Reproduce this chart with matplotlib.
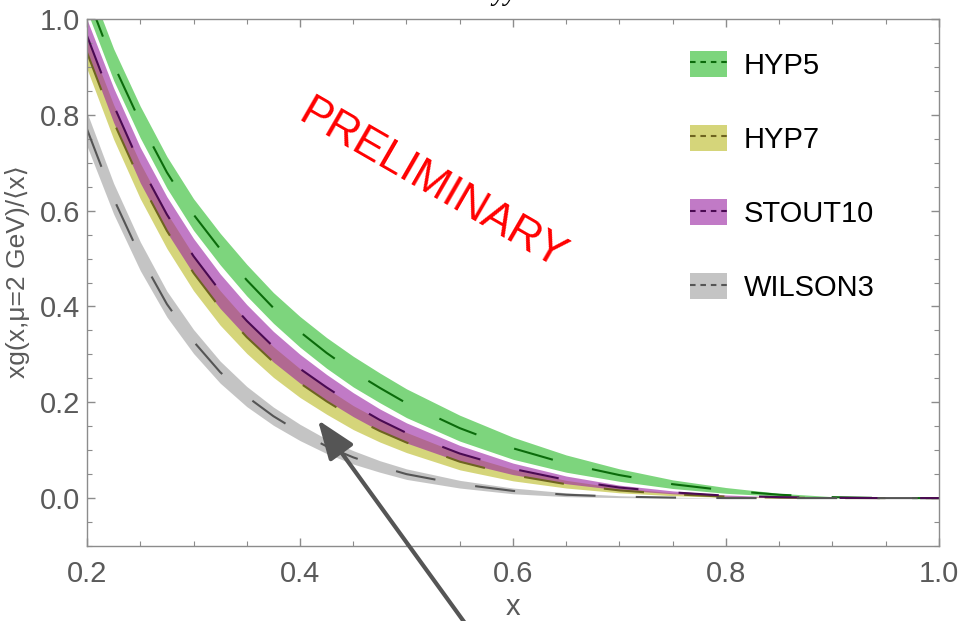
import matplotlib
matplotlib.use("Agg")
import matplotlib.pyplot as plt
from matplotlib.patches import Patch
from matplotlib.lines import Line2D
from matplotlib.ticker import MultipleLocator, FormatStrFormatter
import numpy as np

plt.rcParams['font.family'] = ['Liberation Sans', 'DejaVu Sans']
plt.rcParams['lines.scale_dashes'] = False

# ---- data ----
x = [0.2, 0.225, 0.25, 0.275, 0.3, 0.325, 0.35, 0.375, 0.4, 0.425, 0.45, 0.475,
     0.5, 0.55, 0.6, 0.65, 0.7, 0.75, 0.8, 0.85, 0.9, 0.95, 1.0]

hyp5_center = [1.05, 0.905, 0.785, 0.68, 0.592, 0.52, 0.455, 0.397, 0.347, 0.303, 0.264, 0.230,
               0.198, 0.146, 0.104, 0.072, 0.048, 0.029, 0.016, 0.007, 0.002, 0.0, 0.0]
hyp5_err = [0.033, 0.033, 0.033, 0.033, 0.033, 0.033, 0.033, 0.032, 0.032, 0.032, 0.032, 0.031,
            0.030, 0.027, 0.023, 0.018, 0.013, 0.009, 0.006, 0.003, 0.001, 0.0, 0.0]

hyp7_center = [0.93, 0.785, 0.662, 0.558, 0.47, 0.397, 0.336, 0.284, 0.240, 0.202, 0.168, 0.140,
               0.116, 0.076, 0.048, 0.029, 0.016, 0.008, 0.003, 0.001, 0.0, 0.0, 0.0]
hyp7_err = [0.034, 0.036, 0.037, 0.037, 0.037, 0.036, 0.034, 0.032, 0.030, 0.027, 0.025, 0.023,
            0.021, 0.017, 0.012, 0.008, 0.005, 0.003, 0.0015, 0.0005, 0.0, 0.0, 0.0]

stout10_center = [0.965, 0.82, 0.695, 0.592, 0.505, 0.432, 0.37, 0.316, 0.27, 0.231, 0.195, 0.163,
                  0.136, 0.093, 0.061, 0.038, 0.022, 0.012, 0.005, 0.002, 0.0005, 0.0, 0.0]
stout10_err = [0.034, 0.036, 0.037, 0.037, 0.037, 0.036, 0.034, 0.032, 0.030, 0.027, 0.025, 0.023,
               0.021, 0.017, 0.012, 0.008, 0.005, 0.003, 0.0015, 0.0005, 0.0, 0.0, 0.0]

wilson3_center = [0.77, 0.625, 0.505, 0.405, 0.327, 0.263, 0.212, 0.171, 0.137, 0.108, 0.085, 0.066,
                  0.050, 0.029, 0.015, 0.007, 0.003, 0.001, 0.0, 0.0, 0.0, 0.0, 0.0]
wilson3_err = [0.035, 0.032, 0.030, 0.027, 0.025, 0.023, 0.021, 0.019, 0.017, 0.015, 0.014, 0.012,
               0.011, 0.008, 0.006, 0.004, 0.002, 0.001, 0.0, 0.0, 0.0, 0.0, 0.0]

labels = ['HYP5', 'HYP7', 'STOUT10', 'WILSON3']
centers = [hyp5_center, hyp7_center, stout10_center, wilson3_center]
errs = [hyp5_err, hyp7_err, stout10_err, wilson3_err]

fill_colors = [(0.15, 0.73, 0.15), (0.73, 0.73, 0.13), (0.60, 0.13, 0.63), (0.62, 0.62, 0.62)]
fill_alpha = 0.6
line_colors = ['#0b6b0b', '#6e6420', '#4a0a52', '#555555']

xticks = [0.2, 0.4, 0.6, 0.8, 1.0]
yticks = [0.0, 0.2, 0.4, 0.6, 0.8, 1.0]

# ---- figure ----
fig = plt.figure(figsize=(9.6, 6.21), dpi=100)
ax = fig.add_axes([87/960, 75/621, 852/960, 527/621])

xa = np.array(x)
for c, e, fc in zip(centers, errs, fill_colors):
    c = np.array(c); e = np.array(e)
    ax.fill_between(xa, c - e, c + e, color=fc, alpha=fill_alpha, lw=0)
for c, lc in zip(centers, line_colors):
    ax.plot(xa, c, color=lc, lw=1.5, dashes=(29, 29))

ax.set_xlim(0.2, 1.0)
ax.set_ylim(-0.1, 1.0)

spine_col = '#8c8c8c'
lab_col = '#5a5a5a'
for s in ax.spines.values():
    s.set_color(spine_col)
    s.set_linewidth(1.0)
ax.set_xticks(xticks)
ax.set_yticks(yticks)
ax.xaxis.set_minor_locator(MultipleLocator(0.05))
ax.yaxis.set_minor_locator(MultipleLocator(0.05))
ax.tick_params(which='both', direction='in', top=True, right=True, color=spine_col)
ax.tick_params(which='major', length=6, width=1.0)
ax.tick_params(which='minor', length=3.5, width=0.8)
ax.tick_params(axis='x', which='major', labelsize=21, labelcolor=lab_col, pad=10)
ax.tick_params(axis='y', which='major', labelsize=21, labelcolor=lab_col, pad=5)
ax.xaxis.set_major_formatter(FormatStrFormatter('%.1f'))
ax.yaxis.set_major_formatter(FormatStrFormatter('%.1f'))

ax.set_xlabel('x', fontsize=21, color=lab_col, va='center')
ax.xaxis.set_label_coords(0.5, -0.116)
ax.set_ylabel('xg(x,μ=2 GeV)/⟨x⟩', fontsize=19, color=lab_col, va='center')
ax.yaxis.set_label_coords(-0.082, 0.52)

# legend
handles = []
for fc, lc in zip(fill_colors, line_colors):
    handles.append((Patch(facecolor=fc, alpha=fill_alpha, lw=0),
                    Line2D([], [], color=lc, lw=1.5, dashes=(4, 3.5))))
ax.legend(handles, labels, loc='upper left', bbox_to_anchor=(0.708, 0.940),
          frameon=False, fontsize=21, handlelength=1.26, handleheight=1.0,
          handletextpad=0.58, labelspacing=1.55, borderpad=0, borderaxespad=0)

# watermark
ax.text(0.405, 0.685, 'PRELIMINARY', transform=ax.transAxes, rotation=-30,
        rotation_mode='anchor', ha='center', va='center', color='red', fontsize=32)

# arrow
ax.annotate('', xy=(0.271, 0.239), xycoords='axes fraction',
            xytext=(0.452, -0.165), textcoords='axes fraction',
            arrowprops=dict(arrowstyle='-|>,head_length=1.2,head_width=0.45',
                            lw=3, color='#555555', mutation_scale=20,
                            shrinkA=0, shrinkB=0),
            annotation_clip=False)

# clipped title remnant at top
fig.text(505/960, 1.0, 'yy', ha='center', va='baseline', fontsize=20,
         family='Liberation Serif', style='italic', color='black')

fig.savefig('out.png', dpi=100)
